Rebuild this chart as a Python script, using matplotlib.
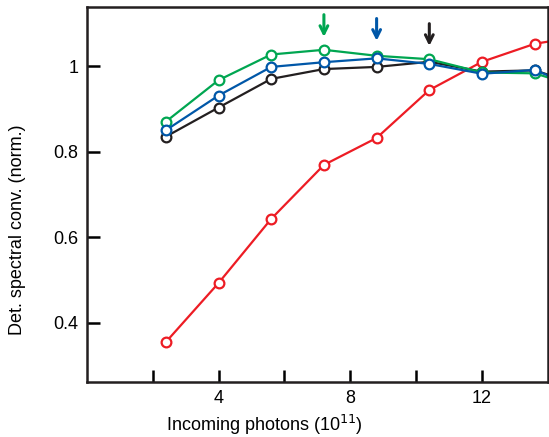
import matplotlib
matplotlib.use('Agg')
import matplotlib.pyplot as plt

# photon counts (units of 1e11); last point lies beyond the axis edge
photons = [2.4, 4.0, 5.6, 7.2, 8.8, 10.4, 12.0, 13.6, 15.2]

green = [0.870, 0.967, 1.027, 1.038, 1.024, 1.016, 0.985, 0.983, 0.945]
blue = [0.850, 0.931, 0.998, 1.009, 1.018, 1.005, 0.982, 0.991, 0.940]
black = [0.835, 0.903, 0.970, 0.993, 0.998, 1.010, 0.987, 0.990, 0.950]
red = [0.355, 0.493, 0.643, 0.769, 0.832, 0.944, 1.010, 1.052, 1.072]

# arrow markers above the curves: (x, tip y, colour)
arrows = [(7.2, 1.068, '#00a651'), (8.8, 1.059, '#0057a8'), (10.4, 1.047, '#231f20')]

xticks = [2, 4, 6, 8, 10, 12]
xticklabels = ['', '4', '', '8', '', '12']
yticks = [0.4, 0.6, 0.8, 1.0]
yticklabels = ['0.4', '0.6', '0.8', '1']


def main():
    plt.rcParams['font.family'] = ['Liberation Sans', 'DejaVu Sans']
    fig = plt.figure(figsize=(5.49, 4.37), dpi=100)
    ax = fig.add_axes([0.158, 0.126, 0.840, 0.858])

    series = [(red, '#ed1c24'), (black, '#231f20'), (green, '#00a651'), (blue, '#0057a8')]
    for ys, col in series:
        ax.plot(photons, ys, '-o', color=col, lw=1.6, ms=7, mfc='white',
                mec=col, mew=1.6, clip_on=True)

    for x, tip, col in arrows:
        ax.annotate('', xy=(x, tip), xytext=(x, tip + 0.052),
                    arrowprops=dict(arrowstyle='->', color=col, lw=2.2,
                                    mutation_scale=14, shrinkA=0, shrinkB=0))

    ax.set_xlim(0, 14)
    ax.set_ylim(0.262, 1.138)
    ax.set_xticks(xticks)
    ax.set_xticklabels(xticklabels)
    ax.set_yticks(yticks)
    ax.set_yticklabels(yticklabels)
    ax.tick_params(direction='in', length=9, width=1.8, labelsize=13, pad=6)
    for s in ax.spines.values():
        s.set_linewidth(1.8)
        s.set_color('#231f20')

    ax.set_xlabel('Incoming photons (10$^{11}$)', fontsize=13, labelpad=4, x=0.386)
    ax.set_ylabel('Det. spectral conv. (norm.)', fontsize=13, labelpad=20, y=0.405)

    fig.savefig('out.png', dpi=100)


if __name__ == '__main__':
    main()
